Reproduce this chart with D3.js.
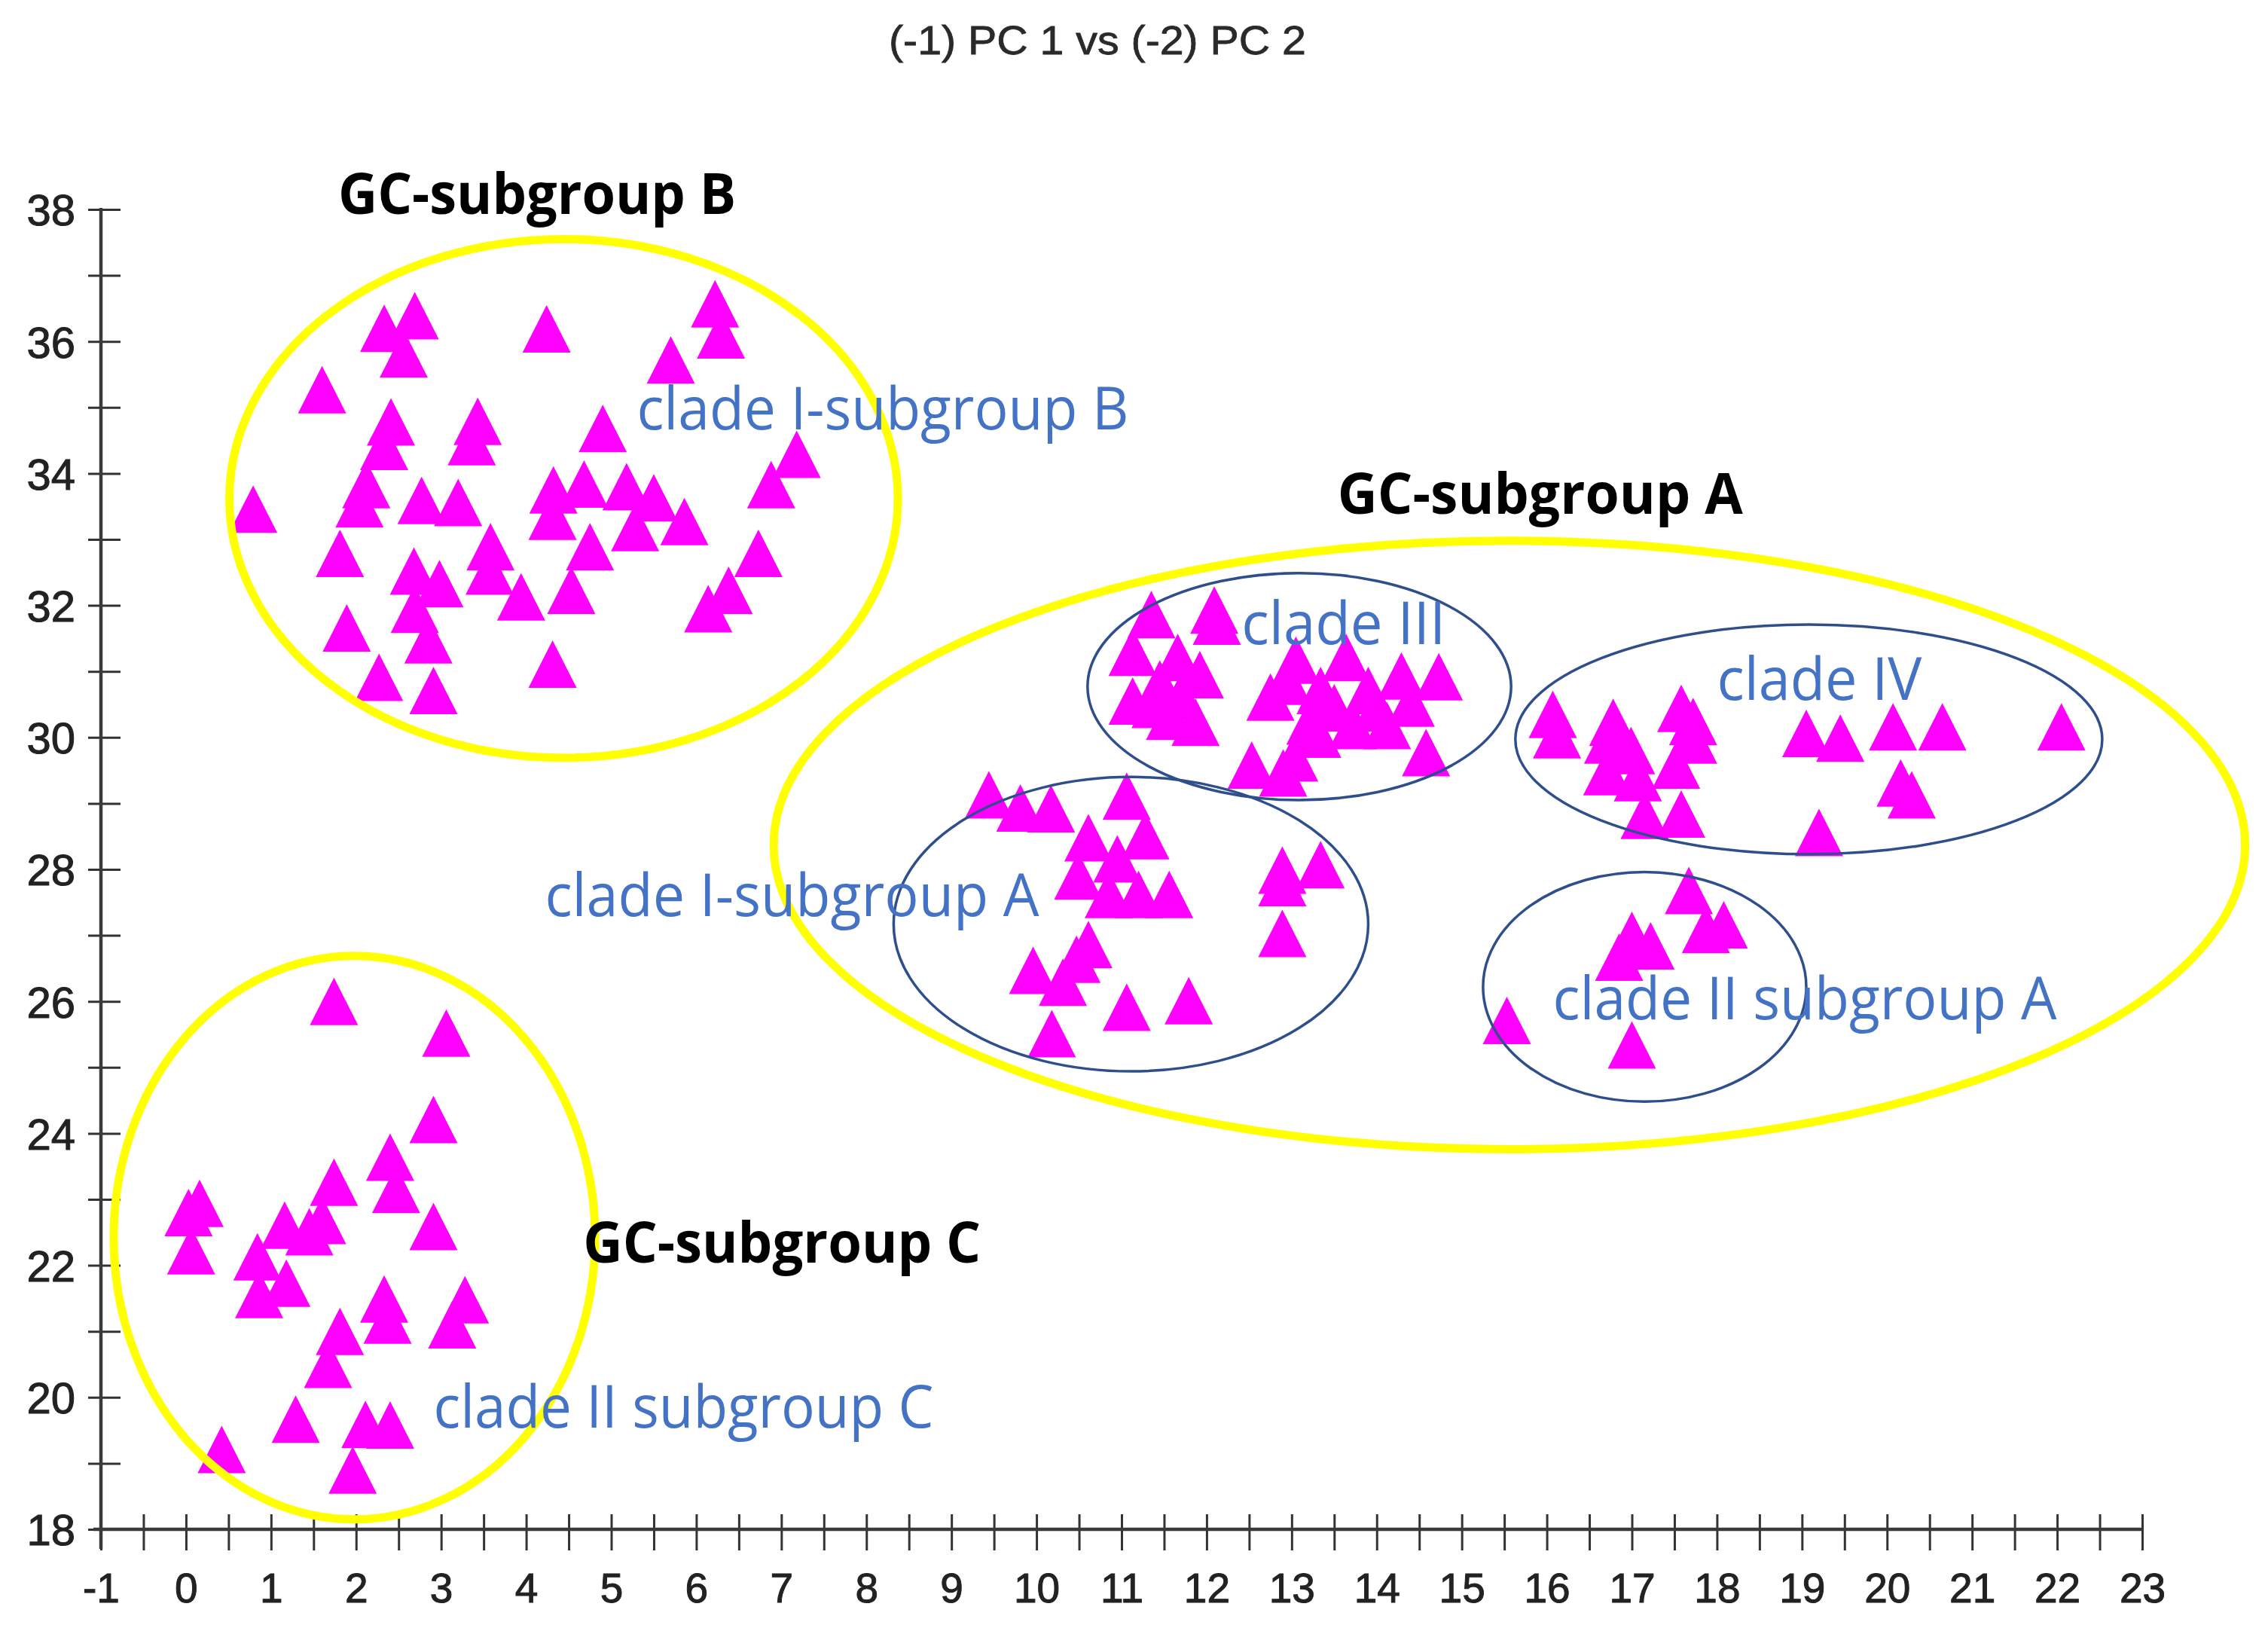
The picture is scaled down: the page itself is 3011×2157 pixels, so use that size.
<!DOCTYPE html>
<html><head><meta charset="utf-8">
<script src="https://cdn.jsdelivr.net/npm/d3@7"></script>
<style>body{margin:0;background:#fff}svg{display:block}</style>
</head><body>
<svg id="chart" width="3011" height="2157"></svg>
<script>
// ---------- data ----------
const titleText = "(-1) PC 1 vs (-2) PC 2";
const xTickValues = d3.range(-1, 23.001, 0.5);
const xTickLabels = d3.range(-1, 24, 1);
const yTickValues = d3.range(18, 39, 1);
const yTickLabels = d3.range(18, 39, 2);

const cladeISubgroupB = [[2.33,36.20],[2.69,36.39],[2.56,35.81],[4.24,36.19],[6.22,36.57],[6.29,36.10],[5.70,35.72],[1.60,35.27],[2.41,34.78],[2.33,34.41],[3.43,34.79],[3.36,34.48],[4.90,34.68],[7.18,34.29],[6.88,33.83],[0.79,33.46],[2.12,33.83],[2.04,33.54],[2.77,33.59],[3.20,33.56],[4.32,33.75],[4.31,33.35],[4.68,33.84],[5.18,33.80],[5.50,33.63],[5.28,33.18],[5.86,33.27],[1.81,32.79],[3.58,32.89],[3.57,32.52],[4.75,32.89],[2.68,32.52],[2.98,32.33],[3.94,32.13],[4.53,32.23],[6.73,32.79],[6.38,32.23],[6.14,31.95],[1.89,31.66],[2.69,31.94],[2.85,31.48],[2.27,30.91],[2.91,30.71],[4.31,31.11]];
const cladeIII = [[12.09,31.93],[12.12,31.76],[11.35,31.86],[11.13,31.29],[11.13,30.55],[11.57,30.32],[11.87,30.23],[11.92,30.95],[11.66,31.21],[11.45,30.81],[11.40,30.50],[11.70,30.62],[13.05,31.17],[13.64,31.21],[14.29,30.93],[14.73,30.92],[12.75,30.61],[13.34,30.71],[13.72,30.18],[14.12,30.18],[14.40,30.52],[14.58,29.77],[12.53,29.58],[12.90,29.46],[13.03,29.69],[13.22,30.25],[13.90,30.71],[13.50,30.45],[14.00,30.45],[12.95,30.85],[13.30,30.05]];
const cladeISubgroupA = [[9.44,29.13],[9.81,28.93],[10.17,28.92],[11.06,29.11],[10.61,28.48],[11.28,28.51],[10.95,28.16],[11.56,27.62],[11.20,27.62],[10.85,27.62],[10.49,27.90],[10.61,26.86],[10.47,26.64],[10.31,26.29],[9.96,26.47],[11.06,25.91],[11.79,26.01],[10.18,25.51],[12.89,27.99],[13.34,28.07],[12.89,27.80],[12.89,27.03]];
const cladeIV = [[16.07,30.35],[16.12,30.04],[16.78,30.23],[16.72,29.96],[16.71,29.48],[16.99,29.80],[17.07,29.39],[17.58,30.44],[17.72,30.24],[17.72,29.96],[17.52,29.58],[17.58,28.84],[17.15,28.82],[19.05,30.06],[19.45,29.99],[20.07,30.16],[20.65,30.16],[22.05,30.16],[20.16,29.31],[20.29,29.13],[19.20,28.56]];
const cladeIISubgroupA = [[17.67,27.68],[17.87,27.09],[18.08,27.16],[17.00,27.00],[17.22,26.84],[16.85,26.67],[15.53,25.71],[17.00,25.34]];
const cladeIISubgroupC = [[1.74,26.00],[3.06,25.52],[2.91,24.21],[2.40,23.64],[2.47,23.15],[1.74,23.26],[1.60,22.68],[1.45,22.51],[1.16,22.61],[2.91,22.59],[0.16,22.94],[0.03,22.80],[0.06,22.22],[0.84,22.13],[1.18,21.73],[0.86,21.56],[2.33,21.49],[2.37,21.17],[1.81,21.00],[3.28,21.48],[3.13,21.10],[1.67,20.50],[1.29,19.67],[2.11,19.59],[2.40,19.58],[0.42,19.21],[1.96,18.90]];

// group outlines (data units): centre x, centre y, radius x, radius y
const gcGroups = [[4.44,33.62,3.93,3.93],[15.56,28.37,8.65,4.61],[1.98,22.42,2.83,4.27]];
const cladeGroups = [[13.09,30.77,2.49,1.72],[19.08,29.97,3.45,1.74],[11.11,27.17,2.79,2.23],[17.15,26.22,1.90,1.74]];

// annotation texts (anchor in data units)
const gcLabels = [["GC-subgroup B",1.79,37.93,528],["GC-subgroup A",13.54,33.39,538],["GC-subgroup C",4.67,22.04,528]];
const cladeLabels = [["clade I-subgroup B",5.30,34.67,653],["clade III",12.41,31.41,271],["clade IV",18.00,30.57,272],["clade II subgroup A",16.07,25.73,669],["clade I-subgroup A",4.22,27.29,656],["clade II subgroup C",2.91,19.54,664]];

// ---------- drawing ----------
const svg = d3.select("#chart");
const x = d3.scaleLinear().domain([-1, 23]).range([134, 2844]);
const y = d3.scaleLinear().domain([18, 38]).range([2030, 278]);
const axisFont = "'Liberation Sans', Arial, Helvetica, sans-serif";
const labelFont = "'Open Sans', 'Noto Sans', sans-serif";

// title
svg.append("text").attr("x", 1180).attr("y", 72)
  .attr("textLength", 554).attr("lengthAdjust", "spacingAndGlyphs")
  .style("font-family", axisFont).style("font-size", "54px").style("fill", "#2a2a2a")
  .style("stroke", "#2a2a2a").style("stroke-width", 0.8)
  .text(titleText);

// y axis
const yAxis = d3.axisLeft(y).tickValues(yTickValues).tickSizeOuter(0).tickSize(0)
  .tickFormat(d => yTickLabels.includes(d) ? d : "");
const gy = svg.append("g").attr("transform", "translate(134,0)").call(yAxis);
gy.select(".domain").remove();
gy.selectAll(".tick line").attr("x1", -17).attr("x2", 26).attr("stroke", "#333").attr("stroke-width", 3);
gy.selectAll(".tick text").attr("x", -34).attr("dy", "0.36em")
  .style("font-family", axisFont).style("font-size", "58px").style("fill", "#222")
  .style("stroke", "#222").style("stroke-width", 1);

// x axis
const xAxis = d3.axisBottom(x).tickValues(xTickValues).tickSizeOuter(0).tickSize(0)
  .tickFormat(d => xTickLabels.includes(d) ? d : "");
const gx = svg.append("g").attr("transform", "translate(0,2030)").call(xAxis);
gx.select(".domain").remove();
gx.selectAll(".tick line").attr("y1", -20).attr("y2", 28).attr("stroke", "#333").attr("stroke-width", 3);
gx.selectAll(".tick text").attr("y", 97).attr("dy", 0)
  .style("font-family", axisFont).style("font-size", "55px").style("fill", "#222")
  .style("stroke", "#222").style("stroke-width", 1);

// axis lines
svg.append("line").attr("x1", x(-1)).attr("x2", x(-1)).attr("y1", y(38) - 2).attr("y2", y(18) + 26)
  .attr("stroke", "#3a3a3a").attr("stroke-width", 4.5);
svg.append("line").attr("x1", x(-1) - 10).attr("x2", x(23)).attr("y1", y(18)).attr("y2", y(18))
  .attr("stroke", "#3a3a3a").attr("stroke-width", 4.5);

// points
const triW = 64, triH = 63;
const triPath = `M0,${-triH/2}L${triW/2},${triH/2}L${-triW/2},${triH/2}Z`;
const allPoints = [].concat(cladeISubgroupB, cladeIII, cladeISubgroupA, cladeIV, cladeIISubgroupA, cladeIISubgroupC);
svg.append("g").selectAll("path").data(allPoints).join("path")
  .attr("d", triPath)
  .attr("transform", d => `translate(${x(d[0])},${y(d[1])})`)
  .attr("fill", "#FF00FF");

// outlines
function drawEllipses(list, color, width) {
  svg.append("g").selectAll("ellipse").data(list).join("ellipse")
    .attr("cx", d => x(d[0])).attr("cy", d => y(d[1]))
    .attr("rx", d => x(d[0] + d[2]) - x(d[0]))
    .attr("ry", d => y(d[1]) - y(d[1] + d[3]))
    .attr("fill", "none").attr("stroke", color).attr("stroke-width", width);
}
drawEllipses(cladeGroups, "#2F4F8C", 3.5);
drawEllipses(gcGroups, "#FFFF00", 11);

// labels
svg.append("g").selectAll("text").data(gcLabels).join("text")
  .attr("x", d => x(d[1])).attr("y", d => y(d[2]))
  .attr("textLength", d => d[3]).attr("lengthAdjust", "spacingAndGlyphs")
  .style("font-family", labelFont).style("font-weight", 700).style("font-size", "76px").style("fill", "#000")
  .text(d => d[0]);
svg.append("g").selectAll("text").data(cladeLabels).join("text")
  .attr("x", d => x(d[1])).attr("y", d => y(d[2]))
  .attr("textLength", d => d[3]).attr("lengthAdjust", "spacingAndGlyphs")
  .style("font-family", labelFont).style("font-size", "78px").style("fill", "#4472C4")
  .text(d => d[0]);
</script>
</body></html>
